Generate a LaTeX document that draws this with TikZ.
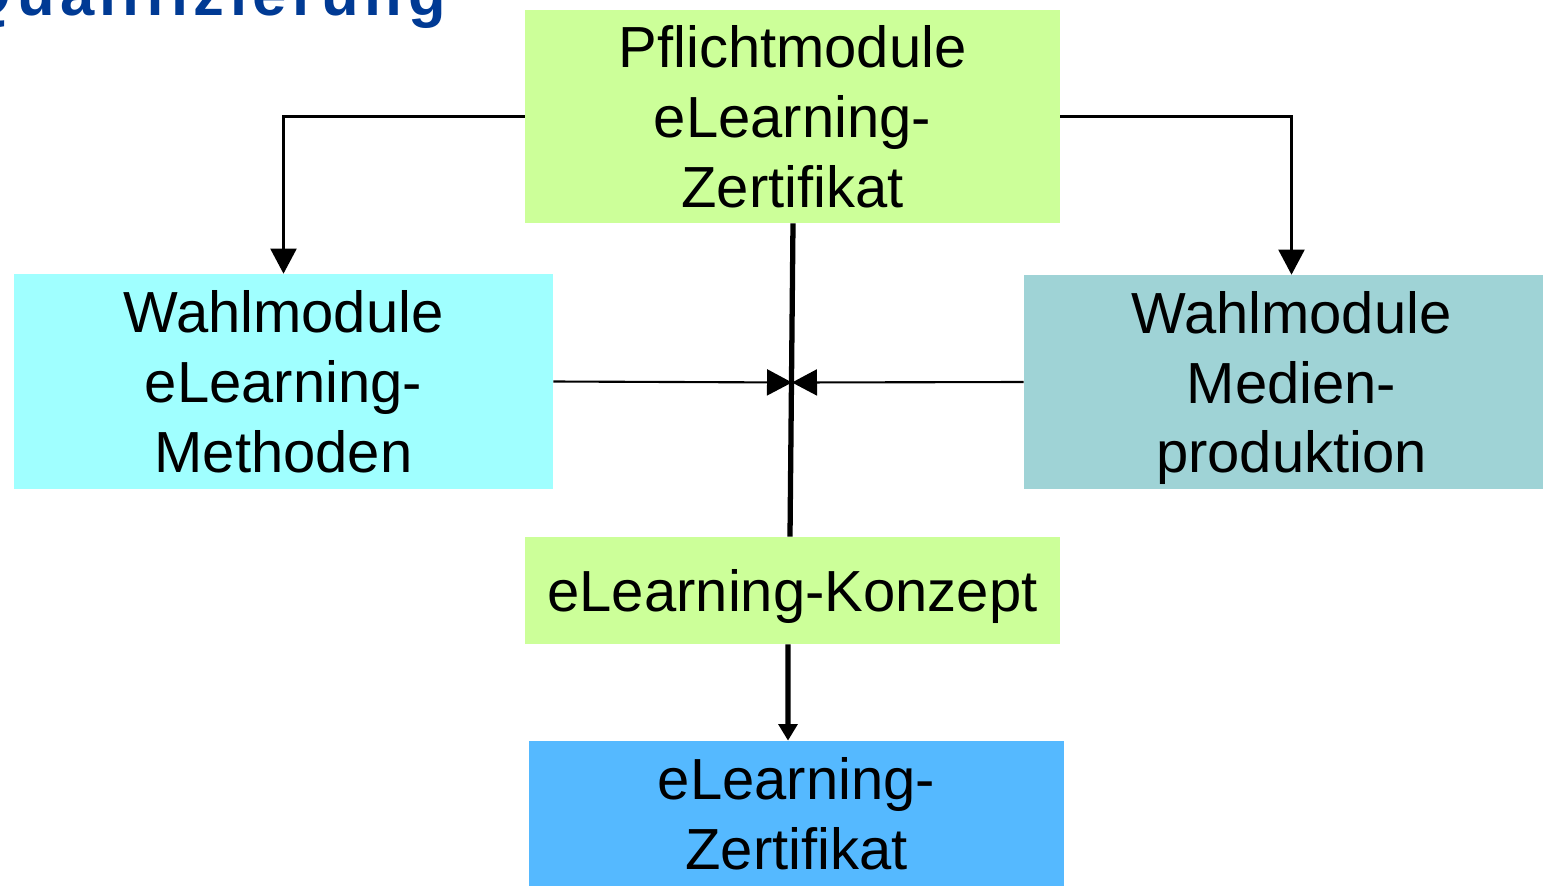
\documentclass[tikz,border=0pt]{standalone}
\usepackage{fontspec}
\setmainfont{Liberation Sans}
\usetikzlibrary{arrows.meta}
\definecolor{pgreen}{HTML}{CCFF99}
\definecolor{wlcyan}{HTML}{A0FFFF}
\definecolor{wrteal}{HTML}{9FD3D6}
\definecolor{zeblue}{HTML}{55B9FF}
\definecolor{titleblue}{HTML}{003A94}
\begin{document}
\begin{tikzpicture}[x=0.02cm,y=-0.02cm,
  box/.style={draw=none, inner sep=0pt, align=center, text depth=0pt,
    font=\fontsize{33}{39.8}\selectfont, minimum width=10.7cm},
  thinline/.style={line width=1.2pt},
  thickline/.style={line width=3pt},
  bigtip/.style={-{Triangle[length=0.5cm,width=0.52cm]}},
  smalltip/.style={-{Triangle[length=0.33cm,width=0.37cm]}}]
\useasboundingbox (0,0) rectangle (1543,886);
\clip (0,0) rectangle (1543,886);
\node[anchor=base east, inner sep=0pt, text=titleblue,
  font={\fontsize{35}{40}\selectfont\bfseries\addfontfeatures{LetterSpace=9}}]
  (title) at (446,15) {Qualifizierung};
\node[box, fill=pgreen, minimum height=4.26cm] (pf) at (792.5,116.5)
  {Pflichtmodule\\eLearning-\\Zertifikat};
\node[box, fill=wlcyan, minimum width=10.78cm, minimum height=4.3cm] (wl) at (283.5,381.5)
  {Wahlmodule\\eLearning-\\Methoden};
\node[box, fill=wrteal, minimum height=4.28cm] (wr) at (1291.5,382)
  {Wahlmodule\\Medien-\\produktion};
\node[box, fill=pgreen, minimum height=2.14cm] (ko) at (792.5,590.5)
  {eLearning-Konzept};
\node[box, fill=zeblue, minimum height=2.9cm] (ze) at (796.5,813.5)
  {eLearning-\\Zertifikat};
\coordinate (mid) at (792,382.5);
\draw[thinline, bigtip] (pf.west) -| (wl.north);
\draw[thinline, bigtip] (pf.east) -| (wr.north);
\draw[thinline, bigtip] (wl.east) -- (mid);
\draw[thinline, bigtip] (wr.west) -- (mid);
\draw[thickline] ([xshift=0.01cm]pf.south) -- ([xshift=-0.05cm]ko.north);
\draw[thickline, smalltip] ([xshift=-0.09cm]ko.south) -- ([xshift=-0.17cm]ze.north);
\end{tikzpicture}
\end{document}
